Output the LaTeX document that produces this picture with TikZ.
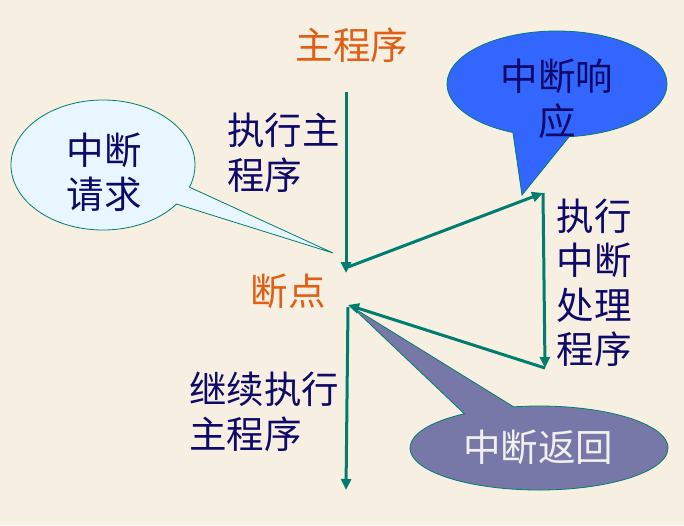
\documentclass[tikz,border=0pt]{standalone}
\usepackage{fontspec}
\setmainfont{Noto Sans CJK SC}
\usetikzlibrary{arrows.meta,shapes.callouts}
\definecolor{paper}{RGB}{247,240,226}
\definecolor{flowteal}{RGB}{0,125,110}
\definecolor{textnavy}{RGB}{15,10,105}
\definecolor{hintorange}{RGB}{225,95,20}
\definecolor{reqfill}{RGB}{232,246,255}
\definecolor{ackfill}{RGB}{51,102,255}
\definecolor{retfill}{RGB}{120,120,168}
\tikzset{
  flow/.style={-{Triangle[length=11pt,width=10pt]},line width=3pt,draw=flowteal},
  txt/.style={font=\fontsize{37.5}{44.5}\selectfont,text=textnavy,inner sep=0pt},
  hint/.style={font=\fontsize{37.5}{44.5}\selectfont,text=hintorange,inner sep=0pt},
  bubble/.style={ellipse callout,draw=flowteal,line width=0.8pt,inner sep=0pt}
}

\begin{document}
\begin{tikzpicture}[x=1pt,y=-1pt]
  \fill[paper] (0,0) rectangle (684,525);
  \useasboundingbox (0,0) rectangle (684,525);

  % callouts
  \node[bubble,fill=reqfill,minimum width=184pt,minimum height=130pt,
        callout pointer arc=17,callout absolute pointer={(333,253)}] (req) at (103,165) {};
  \node[bubble,fill=ackfill,minimum width=220pt,minimum height=106pt,
        callout pointer arc=30,callout absolute pointer={(522,195)}] (ack) at (557,84) {};
  \node[bubble,fill=retfill,minimum width=258pt,minimum height=84pt,
        callout pointer arc=24,callout absolute pointer={(352,307)}] (iret) at (539,448) {};

  \node[txt,align=center] (reqtxt) at (104,172) {中断\\请求};
  \node[txt,align=center] (acktxt) at (557,99) {中断响\\应};
  \node[txt,text=white!94!black] (irettxt) at (538,447) {中断返回};

  % labels
  \node[hint] (main) at (352,45) {主程序};
  \node[hint] (brkpt) at (288,291) {断点};
  \node[txt,align=left,anchor=west] (runmain) at (227,153) {执行主\\程序};
  \node[txt,align=left,anchor=west] (resume) at (189,412) {继续执行\\主程序};
  \node[txt,align=center] (runisr) at (594,283) {执行\\中断\\处理\\程序};

  % flow points
  \coordinate (top) at (346,92);
  \coordinate (brk) at (346,273);
  \coordinate (leave) at (348,267);
  \coordinate (isr) at (543,193);
  \coordinate (isrend) at (545,368);
  \coordinate (back) at (348,305);
  \coordinate (bottom) at (346,490);

  \draw[flow] (top) -- (brk);
  \draw[flow] (leave) -- (isr);
  \draw[flow] (isr) -- (isrend);
  \draw[flow] (isrend) -- (back);
  \draw[flow] (back |- 0,307) -- (bottom);

\end{tikzpicture}
\end{document}
